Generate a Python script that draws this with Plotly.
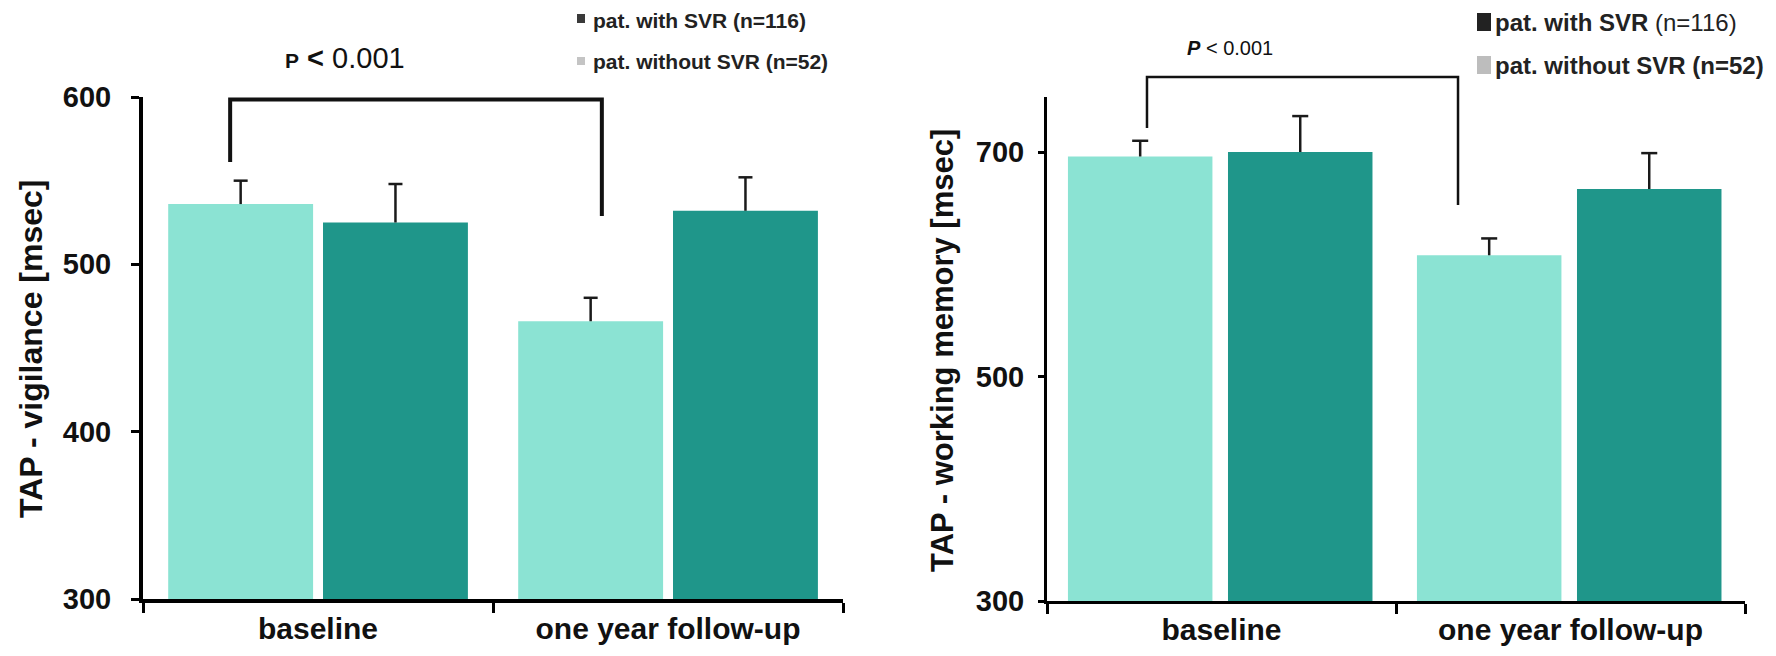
import plotly.graph_objects as go

# ---------------- data ----------------
categories = ["baseline", "one year follow-up"]

vig_with = [536, 466]
vig_with_err = [14, 14]
vig_without = [525, 532]
vig_without_err = [23, 20]

wm_with = [696, 608]
wm_with_err = [14, 15]
wm_without = [700, 667]
wm_without_err = [32, 32]

series_names = ["pat. with SVR (n=116)", "pat. without SVR (n=52)"]
y_titles = ["TAP - vigilance [msec]", "TAP - working memory [msec]"]

# ---------------- style ----------------
LIGHT = "#8BE3D3"
DARK = "#1F968A"
FONT = "Liberation Sans, Arial, sans-serif"
W, H = 1776, 656


def px(x):
    return x / W


def py(y):
    return 1 - y / H


fig = go.Figure()

BAR_W = 0.414


def err_lines(vals, errs, center_off, capw):
    xs, ys = [], []
    for i, (v, e) in enumerate(zip(vals, errs)):
        c = i + center_off
        xs += [c, c, None, c - capw, c + capw, None]
        ys += [v, v + e, None, v + e, v + e, None]
    return xs, ys


def add_panel(xa, ya, xo, v1, e1, v2, e2, off1, off2, capw, ethick):
    for vals, col, name, off in ((v1, LIGHT, series_names[0], off1),
                                 (v2, DARK, series_names[1], off2)):
        fig.add_trace(go.Bar(
            x=categories, y=vals, name=name, xaxis=xa, yaxis=ya,
            marker=dict(color=col, line=dict(width=0)), width=BAR_W, offset=off,
            showlegend=False))
    for vals, errs, off in ((v1, e1, off1), (v2, e2, off2)):
        xs, ys = err_lines(vals, errs, off + BAR_W / 2, capw)
        fig.add_trace(go.Scatter(
            x=xs, y=ys, xaxis=xo, yaxis=ya, mode="lines",
            line=dict(color="#1a1a1a", width=ethick), hoverinfo="skip",
            showlegend=False, connectgaps=False))


add_panel("x", "y", "x3", vig_with, vig_with_err, vig_without, vig_without_err,
          -0.428, 0.0143, 0.02, 2.5)
add_panel("x2", "y2", "x4", wm_with, wm_with_err, wm_without, wm_without_err,
          -0.44, 0.0186, 0.023, 2.5)

tick_font = dict(family=FONT, size=29, color="#111", weight="bold")
xlab_font = dict(family=FONT, size=30, color="#111", weight="bold")

common_x = dict(type="category", range=[-0.5, 1.5], showline=True, linecolor="black",
                ticks="outside", tickson="boundaries", tickcolor="black", ticklen=10,
                showgrid=False, zeroline=False, tickfont=xlab_font, fixedrange=True,
                automargin=False)
common_y = dict(showline=True, linecolor="black", ticks="outside", tickcolor="black",
                showgrid=False, zeroline=False, tickfont=tick_font, fixedrange=True,
                automargin=False)

fig.update_layout(
    width=W, height=H,
    margin=dict(l=0, r=0, t=0, b=0, pad=0),
    paper_bgcolor="white", plot_bgcolor="white",
    barmode="group",
    showlegend=False,
    xaxis=dict(common_x, domain=[px(143), px(843)], anchor="y", linewidth=4, tickwidth=3),
    yaxis=dict(common_y, domain=[py(599), py(97)], anchor="x", range=[300, 600],
               tickvals=[300, 400, 500, 600], linewidth=4, tickwidth=3, ticklen=8,
               ticklabelstandoff=14),
    xaxis2=dict(common_x, domain=[px(1047), px(1745)], anchor="y2", linewidth=3, tickwidth=3),
    yaxis2=dict(common_y, domain=[py(601), py(97)], anchor="x2", range=[300, 749],
                tickvals=[300, 500, 700], linewidth=3, tickwidth=3, ticklen=6,
                ticklabelstandoff=8),
    xaxis3=dict(overlaying="x", anchor="y", range=[-0.5, 1.5], visible=False,
                fixedrange=True, automargin=False),
    xaxis4=dict(overlaying="x2", anchor="y2", range=[-0.5, 1.5], visible=False,
                fixedrange=True, automargin=False),
)

shapes = []
# significance brackets
shapes.append(dict(type="path", xref="x", yref="paper",
                   path=f"M -0.251,{py(162)} L -0.251,{py(99.5)} L 0.811,{py(99.5)} L 0.811,{py(216)}",
                   line=dict(color="#111", width=4)))
shapes.append(dict(type="path", xref="x2", yref="paper",
                   path=f"M -0.2135,{py(128)} L -0.2135,{py(77)} L 0.6777,{py(77)} L 0.6777,{py(205)}",
                   line=dict(color="#111", width=2.5)))
# legend swatches
shapes.append(dict(type="rect", xref="paper", yref="paper", x0=px(577), x1=px(585),
                   y0=py(23), y1=py(14), fillcolor="#3a3a3a", line=dict(width=0)))
shapes.append(dict(type="rect", xref="paper", yref="paper", x0=px(577), x1=px(585),
                   y0=py(65), y1=py(57), fillcolor="#c4c4c4", line=dict(width=0)))
shapes.append(dict(type="rect", xref="paper", yref="paper", x0=px(1477), x1=px(1491),
                   y0=py(31), y1=py(13), fillcolor="#222222", line=dict(width=0)))
shapes.append(dict(type="rect", xref="paper", yref="paper", x0=px(1477), x1=px(1491),
                   y0=py(74), y1=py(56), fillcolor="#bdbdbd", line=dict(width=0)))
fig.update_layout(shapes=shapes)

ann = []
# y-axis titles
ann.append(dict(text=f"<b>{y_titles[0]}</b>", xref="paper", yref="paper", x=px(31), y=py(349),
                textangle=-90, showarrow=False, xanchor="center", yanchor="middle",
                font=dict(family=FONT, size=32, color="#111")))
ann.append(dict(text=f"<b>{y_titles[1]}</b>", xref="paper", yref="paper", x=px(942), y=py(350),
                textangle=-90, showarrow=False, xanchor="center", yanchor="middle",
                font=dict(family=FONT, size=31, color="#111")))
# p-values
ann.append(dict(text="<b><span style='font-size:21px'>P</span> &lt;</b> 0.001",
                xref="paper", yref="paper", x=px(345), y=py(58), showarrow=False,
                xanchor="center", yanchor="middle",
                font=dict(family=FONT, size=29, color="#111")))
ann.append(dict(text="<b><i>P</i></b> &lt; 0.001",
                xref="paper", yref="paper", x=px(1230), y=py(48), showarrow=False,
                xanchor="center", yanchor="middle",
                font=dict(family=FONT, size=20, color="#111")))
# legend texts
ann.append(dict(text=f"<b>{series_names[0]}</b>", xref="paper", yref="paper", x=px(591), y=py(21),
                showarrow=False, xanchor="left", yanchor="middle",
                font=dict(family=FONT, size=21, color="#222")))
ann.append(dict(text=f"<b>{series_names[1]}</b>", xref="paper", yref="paper", x=px(591), y=py(62),
                showarrow=False, xanchor="left", yanchor="middle",
                font=dict(family=FONT, size=21, color="#222")))
ann.append(dict(text="<b>pat. with SVR</b> (n=116)", xref="paper", yref="paper", x=px(1493), y=py(22),
                showarrow=False, xanchor="left", yanchor="middle",
                font=dict(family=FONT, size=24, color="#222")))
ann.append(dict(text=f"<b>{series_names[1]}</b>", xref="paper", yref="paper", x=px(1493), y=py(65),
                showarrow=False, xanchor="left", yanchor="middle",
                font=dict(family=FONT, size=24, color="#222")))
fig.update_layout(annotations=ann)

fig.write_html("out.html")
